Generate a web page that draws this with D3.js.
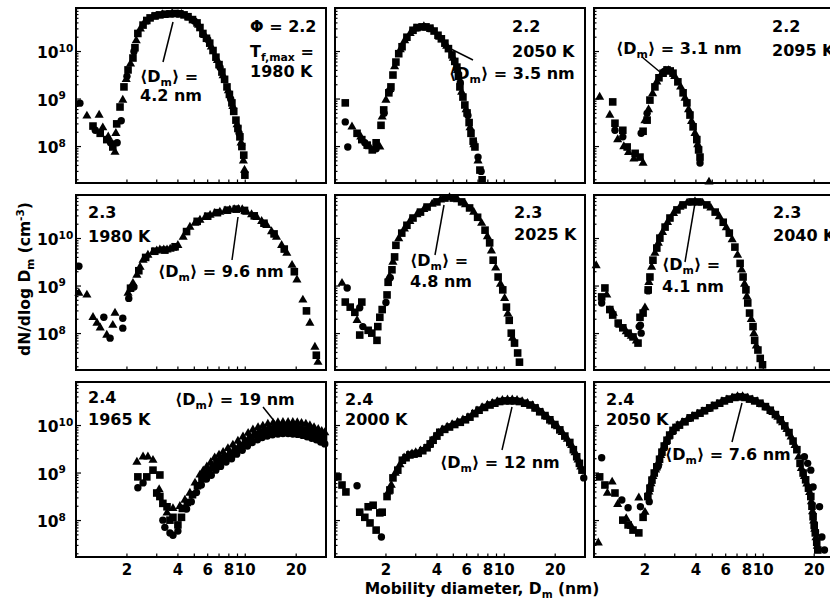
<!DOCTYPE html>
<html>
<head>
<meta charset="utf-8">
<script src="https://cdn.jsdelivr.net/npm/d3@7"></script>
<style>
  body { margin: 0; background: #fff; }
  svg { display: block; }
  text { font-family: "DejaVu Sans", sans-serif; font-weight: bold; fill: #000; }
</style>
</head>
<body>
<svg id="chart" width="830" height="601"></svg>
<script>
// axis values
const dmDomain = [1, 30];
const nDomain = [1.71e7, 8.24e10];
const dmTickLabels = [2, 4, 6, 8, 10, 20];
const nTickExps = [8, 9, 10];

// panel labels (rows: phi 2.2, 2.3, 2.4)
const phiLabels = ['Φ = 2.2', '2.2', '2.2', '2.3', '2.3', '2.3', '2.4', '2.4', '2.4'];
const tempLabels = ['1980 K', '2050 K', '2095 K', '1980 K', '2025 K', '2040 K', '1965 K', '2000 K', '2050 K'];
const meanLabels = ['4.2 nm', '3.5 nm', '3.1 nm', '9.6 nm', '4.8 nm', '4.1 nm', '19 nm', '12 nm', '7.6 nm'];

// series: [Dm (nm), dN/dlogDm (cm^-3)]
const squares1 = [[1.26,2.7e8],[1.39,1.9e8],[1.52,1.4e8],[1.65,9.8e7],[1.74,3.0e8],[1.82,6.8e8],[1.92,1.8e9],[2.03,4.1e9],[2.17,7.3e9],[2.23,1.2e10],[2.32,2.4e10],[2.49,3.6e10],[2.62,4.5e10],[2.74,5.1e10],[2.93,5.6e10],[3.13,5.9e10],[3.35,6.1e10],[3.59,6.2e10],[3.85,6.3e10],[4.11,6.2e10],[4.35,5.9e10],[4.59,5.4e10],[4.88,4.7e10],[5.19,4.0e10],[5.4,3.2e10],[5.62,2.4e10],[5.9,1.9e10],[6.17,1.5e10],[6.45,1.05e10],[6.71,7.6e9],[7.0,5.3e9],[7.28,3.7e9],[7.55,2.6e9],[7.8,1.8e9],[8.06,1.25e9],[8.34,8.3e8],[8.55,5.5e8],[8.81,3.6e8],[9.05,2.4e8],[9.3,1.6e8],[9.55,1.0e8],[9.8,6.6e7],[9.95,2.5e7]];
const triangles1 = [[1.16,4.4e8],[1.37,4.6e8],[1.44,2.5e8],[1.55,1.6e8],[1.70,7.6e7],[1.72,1.9e8],[1.89,9.5e8],[1.98,2.6e9],[2.1,5.5e9],[2.27,1.7e10],[2.4,3.0e10],[2.55,4.2e10],[2.85,5.4e10],[3.25,6.0e10],[3.7,6.3e10],[4.2,6.1e10],[4.7,5.1e10],[5.3,3.6e10],[5.75,2.2e10],[6.3,1.25e10],[6.85,6.5e9],[7.4,3.1e9],[7.95,1.5e9],[8.45,7.0e8],[8.95,2.9e8],[9.45,1.2e8],[9.75,5.0e7],[9.9,3.2e7]];
const circles1 = [[1.055,8.2e8],[1.3,2.2e8],[1.6,1.2e8],[1.75,1.2e8],[1.85,3.5e8],[2.0,3.0e9],[2.2,1.0e10],[3.0,5.8e10],[4.0,6.3e10],[5.0,4.4e10],[6.0,1.8e10],[7.1,4.6e9],[8.2,1.0e9],[9.2,1.9e8]];

const squares2 = [[1.15,8.3e8],[1.35,1.9e8],[1.44,1.4e8],[1.55,1.07e8],[1.66,8.5e7],[1.75,1.2e8],[1.87,2.8e8],[1.94,5.9e8],[2.08,1.35e9],[2.14,1.8e9],[2.2,3.2e9],[2.29,6.0e9],[2.38,9.0e9],[2.49,1.26e10],[2.66,2.0e10],[2.89,2.8e10],[3.05,3.2e10],[3.27,3.3e10],[3.45,3.3e10],[3.64,3.1e10],[3.85,2.7e10],[4.06,2.2e10],[4.25,1.85e10],[4.46,1.5e10],[4.68,1.15e10],[4.91,8.5e9],[5.1,6.2e9],[5.25,4.7e9],[5.36,3.0e9],[5.47,1.8e9],[5.7,1.1e9],[5.85,7.5e8],[6.03,5.1e8],[6.2,3.2e8],[6.36,1.9e8],[6.55,1.3e8],[6.71,9.8e7],[7.18,3.2e7],[7.4,2.0e7]];
const triangles2 = [[1.26,2.6e8],[1.42,1.6e8],[1.6,1.0e8],[1.84,9.8e7],[1.9,4.2e8],[2.0,9.5e8],[2.11,1.6e9],[2.25,4.8e9],[2.43,1.1e10],[2.58,1.7e10],[2.78,2.4e10],[2.97,3.0e10],[3.35,3.35e10],[3.75,2.9e10],[4.15,2.0e10],[4.57,1.3e10],[5.0,7.3e9],[5.3,4.0e9],[5.6,1.4e9],[5.95,6.0e8],[6.28,2.5e8],[6.62,1.1e8],[7.0,5.0e7]];
const circles2 = [[1.15,3.3e8],[1.19,9.8e7],[1.5,1.2e8],[1.75,9.0e7],[1.95,5.0e8],[2.1,1.5e9],[5.5,2.2e9],[6.1,4.5e8],[6.6,1.2e8],[7.0,6.0e7],[7.3,3.0e7]];

const squares3 = [[1.29,8.7e8],[1.33,3.1e8],[1.48,2.2e8],[1.57,9.8e7],[1.75,7.2e7],[1.87,6.0e7],[1.95,2.1e8],[2.06,3.6e8],[2.14,9.5e8],[2.29,1.8e9],[2.42,2.8e9],[2.56,3.5e9],[2.7,4.1e9],[2.82,3.9e9],[2.93,3.5e9],[3.13,2.3e9],[3.36,1.35e9],[3.54,8.3e8],[3.69,4.6e8],[3.85,2.6e8],[4.05,1.4e8],[4.15,8.5e7],[4.23,6.0e7]];
const triangles3 = [[1.08,1.1e9],[1.24,4.6e8],[1.38,1.4e8],[1.5,1.0e8],[1.6,7.5e7],[1.72,5.5e7],[1.95,4.5e7],[2.0,3.5e8],[2.1,6.0e8],[2.22,1.3e9],[2.35,2.3e9],[2.5,3.3e9],[2.63,3.9e9],[2.76,4.0e9],[3.0,3.0e9],[3.25,1.8e9],[3.45,1.05e9],[3.62,6.0e8],[3.77,3.4e8],[3.95,1.9e8],[4.1,1.1e8],[4.78,1.8e7]];
const circles3 = [[1.33,2.2e8],[1.48,1.6e8],[1.9,1.9e8],[2.06,5.0e8],[2.6,3.8e9],[4.23,4.5e7]];

const squares4 = [[2.1,9.0e8],[2.35,2.1e9],[2.58,4.0e9],[2.92,5.4e9],[3.35,5.7e9],[3.85,6.7e9],[4.5,1.4e10],[5.2,2.3e10],[6.0,2.95e10],[6.85,3.5e10],[7.85,3.95e10],[8.85,4.15e10],[9.9,3.9e10],[11.3,3.0e10],[12.9,2.1e10],[14.8,1.25e10],[17.0,6.0e9],[19.5,2.0e9],[23.0,3.0e8],[26.3,3.5e7]];
const triangles4 = [[1.04,7.1e8],[1.16,6.5e8],[1.26,2.2e8],[1.33,1.66e8],[1.39,1.32e8],[1.52,9.3e7],[1.65,1.5e8],[1.7,2.7e8],[2.03,7.1e8],[2.17,1.15e9],[2.29,1.7e9],[2.39,2.5e9],[2.49,3.5e9],[2.66,4.5e9],[2.85,5.2e9],[3.0,5.5e9],[3.13,5.8e9],[3.3,5.8e9],[3.45,5.8e9],[3.6,6.0e9],[3.74,6.3e9],[4.0,7.2e9],[4.3,1.07e10],[4.71,1.74e10],[5.05,2.1e10],[5.4,2.45e10],[5.8,2.8e10],[6.2,3.1e10],[6.6,3.4e10],[7.08,3.6e10],[7.6,3.85e10],[8.1,4.0e10],[8.6,4.1e10],[9.1,4.15e10],[9.6,4.1e10],[10.2,3.6e10],[10.9,3.2e10],[11.7,2.8e10],[12.5,2.3e10],[13.4,1.9e10],[14.3,1.4e10],[15.3,1.07e10],[16.4,7.2e9],[17.6,4.9e9],[18.9,2.75e9],[20.2,1.35e9],[21.9,5.1e8],[24.1,1.66e8],[25.8,5.2e7],[26.9,2.5e7]];
const circles4 = [[1.04,2.6e9],[1.46,2.2e8],[1.59,8.0e7],[1.89,1.3e8],[1.89,2.1e8],[2.05,5.5e8],[2.2,9.5e8]];

const squares5 = [[1.15,4.6e8],[1.23,3.6e8],[1.31,2.8e8],[1.44,4.6e8],[1.40,9.3e7],[1.57,1.17e8],[1.65,1.02e8],[1.77,7.2e7],[1.79,1.4e8],[1.84,2.2e8],[1.9,3.2e8],[2.03,6.5e8],[2.06,1.2e9],[2.17,2.2e9],[2.25,4.1e9],[2.29,7.2e9],[2.48,1.3e10],[2.66,1.9e10],[2.89,2.7e10],[3.2,3.6e10],[3.5,4.6e10],[4.0,5.9e10],[4.46,7.1e10],[5.0,7.1e10],[5.6,5.9e10],[6.24,4.4e10],[6.96,2.8e10],[7.7,1.5e10],[8.2,8.1e9],[8.6,3.5e9],[9.2,1.55e9],[9.8,8.3e8],[10.3,3.6e8],[10.7,1.9e8],[11.0,1.02e8],[11.5,6.3e7],[12.0,3.9e7],[12.3,2.5e7]];
const triangles5 = [[1.1,1.15e9],[1.35,1.9e8],[2.1,1.6e9],[2.2,3.2e9],[2.38,1.0e10],[2.57,1.6e10],[2.77,2.3e10],[3.05,3.2e10],[3.35,4.1e10],[3.75,5.3e10],[4.2,6.5e10],[4.75,7.3e10],[5.3,6.6e10],[5.9,5.2e10],[6.6,3.6e10],[7.35,2.1e10],[7.95,1.1e10],[8.4,5.5e9],[8.9,2.4e9],[9.5,1.1e9],[10.05,5.5e8],[10.5,2.6e8],[11.2,8.0e7]];
const circles5 = [[1.18,9.1e8],[1.40,3.5e8],[1.46,1.4e8],[2.0,4.5e8],[2.12,1.5e9]];

const squares6 = [[1.16,9.1e8],[1.11,5.9e8],[1.24,3.2e8],[1.29,2.45e8],[1.39,1.66e8],[1.48,1.32e8],[1.59,1.02e8],[1.70,8.5e7],[1.82,6.3e7],[1.87,2.2e8],[1.95,2.7e8],[2.09,8.3e8],[2.14,1.55e9],[2.23,3.5e9],[2.35,6.3e9],[2.45,1.02e10],[2.63,1.74e10],[2.81,2.7e10],[3.09,4.0e10],[3.36,5.1e10],[3.79,5.9e10],[4.12,5.9e10],[4.64,5.1e10],[5.2,3.6e10],[5.8,2.2e10],[6.3,1.3e10],[6.8,6.6e9],[7.3,3.0e9],[7.6,1.55e9],[7.9,8.3e8],[8.1,4.4e8],[8.3,2.7e8],[8.7,1.4e8],[8.9,7.2e7],[9.3,4.5e7],[9.6,3.0e7],[9.9,2.2e7]];
const triangles6 = [[1.03,2.7e9],[1.19,6.5e8],[1.3,2.7e8],[1.42,1.5e8],[1.55,1.1e8],[1.66,8.8e7],[1.78,7.0e7],[2.0,3.5e8],[2.11,1.2e9],[2.19,2.5e9],[2.29,4.9e9],[2.4,8.0e9],[2.54,1.35e10],[2.72,2.2e10],[2.95,3.4e10],[3.22,4.6e10],[3.55,5.6e10],[3.95,6.0e10],[4.38,5.6e10],[4.9,4.4e10],[5.5,2.9e10],[6.05,1.7e10],[6.55,9.5e9],[7.05,4.5e9],[7.45,2.2e9],[7.75,1.1e9],[8.0,6.0e8],[8.5,2.0e8],[8.8,1.0e8],[9.1,5.5e7]];
const circles6 = [[1.11,4.4e8],[1.24,3.2e8],[1.85,1.4e8],[1.9,1.02e8],[1.88,1.5e8],[2.09,7.9e8]];

const squares7 = [[2.32,8.3e8],[2.62,8.3e8],[2.85,1.15e9],[3.13,9.1e8],[3.0,3.8e8],[3.13,3.2e8],[3.26,2.3e8],[3.45,1.95e8],[3.59,1.02e8],[3.74,1.17e8],[4.0,8.1e7],[4.2,1.17e8],[4.25,1.8e8],[4.55,2.4e8],[4.88,3.5e8],[5.22,5.4e8],[5.55,7.6e8],[5.8,9.1e8],[6.1,1.1e9],[6.45,1.32e9],[6.8,1.58e9],[7.2,1.86e9],[7.65,2.2e9],[8.2,2.6e9],[8.75,3.2e9],[9.4,3.8e9],[10.05,4.7e9],[10.75,5.6e9],[11.5,6.5e9],[12.3,7.1e9],[13.1,7.8e9],[14.1,8.3e9],[15.1,8.7e9],[16.2,8.9e9],[17.3,8.9e9],[18.5,8.9e9],[19.7,8.7e9],[20.9,8.5e9],[22.2,8.1e9],[23.5,7.6e9],[24.8,7.1e9],[26.2,6.5e9],[27.7,5.9e9],[29.0,5.4e9]];
const triangles7 = [[2.29,1.7e9],[2.49,2.2e9],[2.66,2.2e9],[2.85,1.86e9],[3.1,4.5e8],[3.45,1.45e8],[3.74,1.8e8],[4.11,2.0e8],[4.4,2.7e8],[4.71,3.8e8],[5.05,6.2e8],[5.4,9.1e8],[5.65,1.12e9],[5.93,1.35e9],[6.25,1.66e9],[6.6,2.1e9],[7.0,2.4e9],[7.4,2.75e9],[7.9,3.3e9],[8.45,3.9e9],[9.05,4.7e9],[9.7,5.8e9],[10.4,6.9e9],[11.1,8.1e9],[11.9,9.1e9],[12.7,9.8e9],[13.6,1.07e10],[14.6,1.12e10],[15.6,1.15e10],[16.7,1.17e10],[17.9,1.17e10],[19.1,1.17e10],[20.3,1.15e10],[21.5,1.12e10],[22.8,1.07e10],[24.1,1.0e10],[25.5,9.1e9],[27.0,8.3e9],[28.3,7.6e9],[29.5,7.1e9]];
const circles7 = [[2.32,4.9e8],[2.49,6.2e8],[3.26,1.02e8],[3.35,7.2e7],[3.59,5.5e7],[3.74,4.9e7],[4.0,6.0e7],[4.5,1.75e8],[4.8,2.5e8],[5.15,3.9e8],[5.5,5.6e8],[5.9,7.5e8],[6.3,9.0e8],[6.7,1.15e9],[7.15,1.38e9],[7.7,1.7e9],[8.3,2.0e9],[8.9,2.5e9],[9.6,3.0e9],[10.3,3.7e9],[11.0,4.4e9],[11.8,5.0e9],[12.6,5.6e9],[13.5,6.0e9],[14.5,6.4e9],[15.6,6.6e9],[16.7,6.8e9],[17.9,6.8e9],[19.1,6.6e9],[20.4,6.5e9],[21.8,6.2e9],[23.2,5.8e9],[24.7,5.4e9],[26.3,5.0e9],[27.9,4.5e9],[29.5,4.1e9]];

const squares8 = [[1.04,8.3e8],[1.1,5.6e8],[1.16,4.0e8],[1.40,1.5e8],[1.5,1.17e8],[1.57,1.95e8],[1.68,2.1e8],[1.61,8.9e7],[1.75,6.3e7],[1.84,1.45e8],[1.9,1.5e8],[2.03,3.2e8],[2.11,4.4e8],[2.2,7.9e8],[2.35,1.15e9],[2.5,1.86e9],[2.63,2.1e9],[2.77,2.4e9],[2.93,2.5e9],[3.1,2.6e9],[3.3,2.95e9],[3.5,3.4e9],[3.65,4.1e9],[3.8,4.9e9],[4.0,6.0e9],[4.16,7.2e9],[4.45,8.3e9],[4.75,9.3e9],[5.1,1.05e10],[5.5,1.17e10],[5.9,1.32e10],[6.27,1.5e10],[6.7,1.78e10],[7.1,2.1e10],[7.65,2.4e10],[8.24,2.7e10],[8.8,2.95e10],[9.4,3.2e10],[10.1,3.3e10],[10.8,3.3e10],[11.5,3.3e10],[12.3,3.2e10],[13.2,2.95e10],[14.2,2.7e10],[15.2,2.35e10],[16.2,1.95e10],[17.4,1.62e10],[18.6,1.32e10],[19.9,1.05e10],[21.3,8.1e9],[22.8,6.0e9],[24.4,4.4e9],[25.6,3.1e9],[26.8,2.2e9],[27.8,1.6e9],[28.8,1.15e9]];
const triangles8 = [[2.07,4.0e8],[2.15,5.6e8],[2.27,1.0e9],[2.42,1.5e9],[2.56,2.1e9],[2.7,2.4e9],[2.85,2.55e9],[3.0,2.7e9],[3.2,2.95e9],[3.4,3.3e9],[3.57,3.8e9],[3.72,4.7e9],[3.9,5.8e9],[4.08,6.9e9],[4.3,8.1e9],[4.6,9.3e9],[4.92,1.05e10],[5.3,1.17e10],[5.7,1.32e10],[6.1,1.48e10],[6.5,1.74e10],[6.9,2.05e10],[7.4,2.4e10],[7.95,2.7e10],[8.5,2.95e10],[9.1,3.2e10],[9.75,3.4e10],[10.45,3.5e10],[11.15,3.5e10],[11.9,3.4e10],[12.75,3.2e10],[13.7,2.95e10],[14.7,2.65e10],[15.7,2.25e10],[16.8,1.86e10],[18.0,1.5e10],[19.2,1.2e10],[20.6,9.5e9],[22.0,7.2e9],[23.6,5.2e9],[25.0,3.8e9],[26.2,2.7e9],[27.3,1.9e9],[28.3,1.35e9]];
const circles8 = [[1.35,5.4e8],[1.88,4.5e7],[29.5,7.9e8]];

const squares9 = [[1.08,8.3e8],[1.16,5.6e8],[1.33,3.8e8],[1.48,1.02e8],[1.59,8.1e7],[1.70,6.3e7],[1.84,5.5e7],[1.95,1.17e8],[2.08,3.2e8],[2.14,4.8e8],[2.2,7.1e8],[2.27,1.0e9],[2.35,1.35e9],[2.44,1.95e9],[2.52,2.75e9],[2.6,3.7e9],[2.7,4.9e9],[2.8,6.3e9],[2.93,7.9e9],[3.05,9.1e9],[3.2,1.02e10],[3.45,1.2e10],[3.7,1.45e10],[3.95,1.62e10],[4.23,1.82e10],[4.5,2.05e10],[4.83,2.35e10],[5.15,2.65e10],[5.53,2.95e10],[5.9,3.3e10],[6.3,3.6e10],[6.8,3.9e10],[7.3,4.0e10],[7.8,3.9e10],[8.3,3.6e10],[8.9,3.3e10],[9.56,2.95e10],[10.3,2.5e10],[11.0,2.1e10],[11.8,1.7e10],[12.6,1.32e10],[13.4,9.8e9],[14.2,7.1e9],[15.0,4.7e9],[15.8,3.1e9],[16.5,1.6e9],[17.2,1.0e9],[17.8,7.2e8],[18.5,4.8e8],[19.1,3.2e8],[19.4,2.0e8],[19.7,1.2e8],[20.0,7.9e7],[20.3,5.5e7],[20.7,3.5e7],[21.0,2.4e7]];
const triangles9 = [[1.06,3.4e7],[1.28,6.5e8],[1.2,3.8e8],[1.38,2.2e8],[1.55,1.1e8],[1.66,7.5e7],[1.84,3.0e8],[2.0,1.5e8],[2.11,4.0e8],[2.17,6.0e8],[2.23,8.5e8],[2.31,1.17e9],[2.4,1.66e9],[2.48,2.35e9],[2.56,3.3e9],[2.65,4.4e9],[2.75,5.8e9],[2.87,7.2e9],[2.99,8.7e9],[3.12,1.0e10],[3.32,1.15e10],[3.57,1.35e10],[3.82,1.55e10],[4.1,1.74e10],[4.37,1.95e10],[4.67,2.2e10],[5.0,2.5e10],[5.35,2.8e10],[5.7,3.2e10],[6.1,3.5e10],[6.55,3.8e10],[7.05,4.1e10],[7.55,4.1e10],[8.05,3.8e10],[8.6,3.5e10],[9.2,3.2e10],[9.9,2.75e10],[10.65,2.35e10],[11.4,1.9e10],[12.2,1.5e10],[13.0,1.15e10],[13.8,8.3e9],[14.6,5.8e9],[15.4,3.8e9],[16.2,2.2e9],[16.8,1.26e9],[17.5,8.5e8],[18.1,5.9e8],[18.8,3.9e8],[19.25,2.5e8],[19.55,1.55e8],[19.85,9.8e7],[20.15,6.6e7],[20.5,4.4e7],[20.85,2.9e7]];
const circles9 = [[1.11,2.1e9],[1.46,2.7e8],[1.59,1.86e8],[1.88,1.95e8],[2.12,2.5e8],[2.4,1.4e9],[17.5,2.2e9],[18.3,1.6e9],[19.1,1.15e9],[19.7,5.1e8],[21.5,1.95e8],[22.2,4.5e7],[23.0,2.4e7]];

const squareSets = [squares1, squares2, squares3, squares4, squares5, squares6, squares7, squares8, squares9];
const triangleSets = [triangles1, triangles2, triangles3, triangles4, triangles5, triangles6, triangles7, triangles8, triangles9];
const circleSets = [circles1, circles2, circles3, circles4, circles5, circles6, circles7, circles8, circles9];

// layout
const colX = [76, 335, 594], rowY = [8, 195, 382];
const panelW = 250, panelH = 175;
// label positions inside each panel: [x, line1 baseline, line2 baseline]
const condPos = [[174,24,69],[177,24,49],[178,24,48],[12,23,47],[179,23,45],[179,23,46],[12,21,43],[10,23,43],[12,23,43]];
// mean label: [x, baseline, second line offset (0 = one line)]
const meanPos = [[64,74,19],[114,71,0],[22,46,0],[82,82,0],[75,71,21],[68,75,22],[99,23,0],[105,86,0],[71,78,0]];
const leaderPos = [[97,14,87,54],[112,39,138,52],[48,49,66,64],[162,22,156,65],[109,10,100,60],[101,8,91,67],[187,25,199,40],[177,25,167,68],[148,21,138,60]];
const labelSize = 16;

const svg = d3.select('#chart');
svg.append('rect').attr('width', 830).attr('height', 601).attr('fill', '#fff');

const x = d3.scaleLog().domain(dmDomain).range([0, panelW]);
const y = d3.scaleLog().domain(nDomain).range([panelH, 0]);

// text with sub/superscripts; parts = [[text, 'sub'|'sup'|undefined], ...]
function richText(parent, px, py, parts, size, anchor) {
    const t = parent.append('text').attr('x', px).attr('y', py)
        .style('font-size', size + 'px')
        .attr('text-anchor', anchor || 'start');
    let shift = 0;
    parts.forEach(function(p) {
        const s = p[1] === 'sub' ? size * 0.28 : p[1] === 'sup' ? -size * 0.4 : 0;
        t.append('tspan').attr('dy', s - shift)
            .style('font-size', p[1] ? (size * 0.68) + 'px' : null)
            .text(p[0]);
        shift = s;
    });
    return t;
}

const triangle = d3.symbol().type(d3.symbolTriangle).size(36);

for (let i = 0; i < 9; i++) {
    const col = i % 3, row = Math.floor(i / 3);
    const g = svg.append('g').attr('transform', 'translate(' + colX[col] + ',' + rowY[row] + ')');

    // ticks, pointing inward
    g.selectAll('.ytick').data(y.ticks()).enter().append('line')
        .attr('x1', 0).attr('x2', function(d) { return Number.isInteger(Math.log10(d)) ? 5 : 2.5; })
        .attr('y1', function(d) { return y(d); }).attr('y2', function(d) { return y(d); })
        .attr('stroke', '#000').attr('stroke-width', 1.2);
    g.selectAll('.xtick').data(x.ticks().filter(function(d) { return d > 1 && d < 30; })).enter().append('line')
        .attr('x1', function(d) { return x(d); }).attr('x2', function(d) { return x(d); })
        .attr('y1', panelH).attr('y2', panelH - 3.5)
        .attr('stroke', '#000').attr('stroke-width', 1.2);

    g.append('rect').attr('width', panelW).attr('height', panelH)
        .attr('fill', 'none').attr('stroke', '#000').attr('stroke-width', 2);

    // markers
    g.selectAll('.ci').data(circleSets[i]).enter().append('circle')
        .attr('cx', function(d) { return x(d[0]); })
        .attr('cy', function(d) { return y(d[1]); })
        .attr('r', 3.7).attr('fill', '#000');
    g.selectAll('.sq').data(squareSets[i]).enter().append('rect')
        .attr('x', function(d) { return x(d[0]) - 3.8; })
        .attr('y', function(d) { return y(d[1]) - 3.8; })
        .attr('width', 7.6).attr('height', 7.6).attr('fill', '#000');
    g.selectAll('.tr').data(triangleSets[i]).enter().append('path')
        .attr('d', triangle)
        .attr('transform', function(d) { return 'translate(' + x(d[0]) + ',' + y(d[1]) + ')'; })
        .attr('fill', '#000');

    // condition labels
    const cp = condPos[i];
    g.append('text').attr('x', cp[0]).attr('y', cp[1]).style('font-size', labelSize + 'px').text(phiLabels[i]);
    if (i === 0) {
        richText(g, cp[0], 49, [['T'], ['f,max', 'sub'], [' =']], labelSize);
    }
    g.append('text').attr('x', cp[0]).attr('y', cp[2]).style('font-size', labelSize + 'px').text(tempLabels[i]);

    // mean diameter label and leader line
    const mp = meanPos[i];
    if (mp[2]) {
        richText(g, mp[0], mp[1], [['⟨D'], ['m', 'sub'], ['⟩ =']], labelSize);
        g.append('text').attr('x', mp[0]).attr('y', mp[1] + mp[2]).style('font-size', labelSize + 'px').text(meanLabels[i]);
    } else {
        richText(g, mp[0], mp[1], [['⟨D'], ['m', 'sub'], ['⟩ = ' + meanLabels[i]]], labelSize);
    }
    const lp = leaderPos[i];
    g.append('line').attr('x1', lp[0]).attr('y1', lp[1]).attr('x2', lp[2]).attr('y2', lp[3])
        .attr('stroke', '#000').attr('stroke-width', 1.5);

    // tick labels on outer panels
    if (col === 0) {
        nTickExps.forEach(function(e) {
            richText(g, 37 - colX[0], y(Math.pow(10, e)) + 6.5, [['10'], [String(e), 'sup']], 15.5);
        });
    }
    if (row === 2) {
        g.selectAll('.xl').data(dmTickLabels).enter().append('text')
            .attr('x', function(d) { return x(d); })
            .attr('y', panelH + 18)
            .attr('text-anchor', 'middle')
            .style('font-size', '15px')
            .text(function(d) { return d; });
    }
}

// axis titles
richText(svg, 482, 594, [['Mobility diameter, D'], ['m', 'sub'], [' (nm)']], 15.5, 'middle');
const yTitle = svg.append('g').attr('transform', 'translate(30,279) rotate(-90)');
richText(yTitle, 0, 0, [['dN/dlog D'], ['m', 'sub'], [' (cm'], ['-3', 'sup'], [')']], 15.5, 'middle');
</script>
</body>
</html>
